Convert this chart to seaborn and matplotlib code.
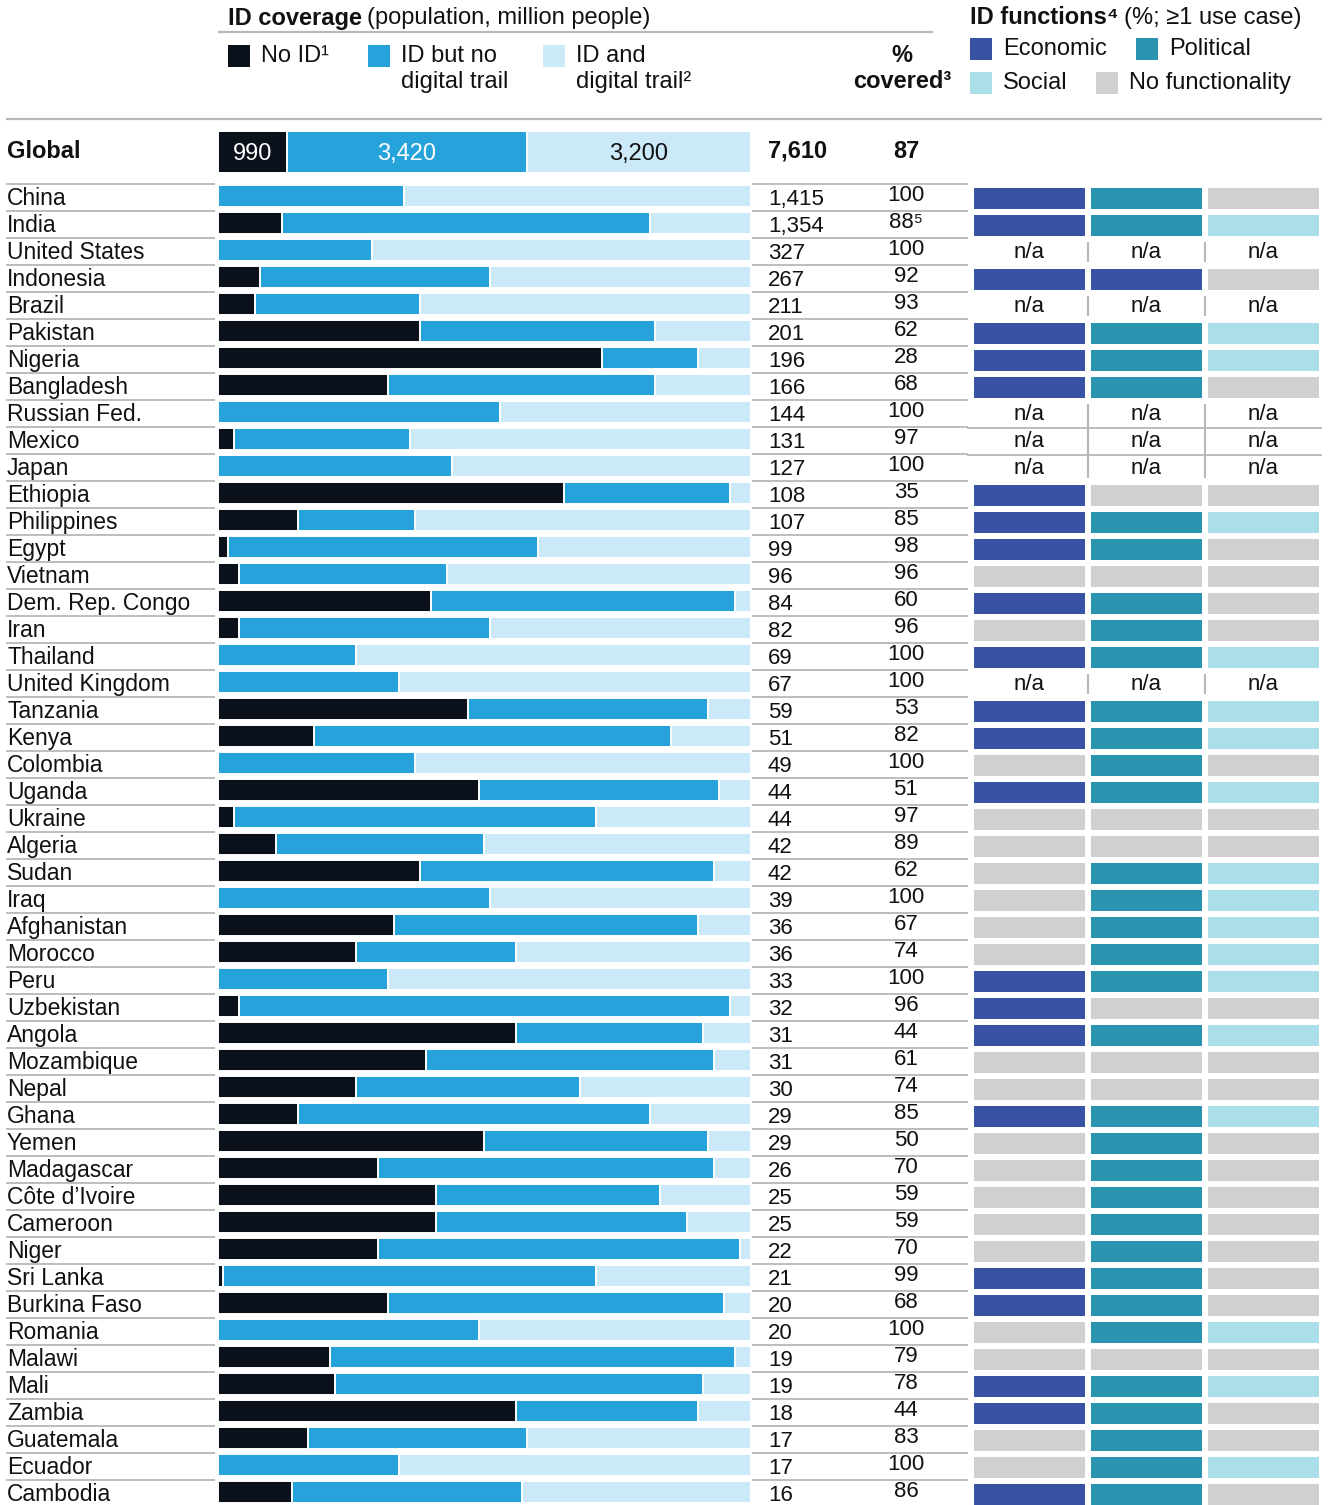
import matplotlib
matplotlib.use("Agg")
import matplotlib.pyplot as plt
from matplotlib.colors import ListedColormap
from matplotlib.patches import Rectangle
from matplotlib.transforms import blended_transform_factory
import numpy as np
import pandas as pd
import seaborn as sns

# --- data -------------------------------------------------------------------
countries = [
    "China", "India", "United States", "Indonesia", "Brazil", "Pakistan",
    "Nigeria", "Bangladesh", "Russian Fed.", "Mexico", "Japan", "Ethiopia",
    "Philippines", "Egypt", "Vietnam", "Dem. Rep. Congo", "Iran", "Thailand",
    "United Kingdom", "Tanzania", "Kenya", "Colombia", "Uganda", "Ukraine",
    "Algeria", "Sudan", "Iraq", "Afghanistan", "Morocco", "Peru", "Uzbekistan",
    "Angola", "Mozambique", "Nepal", "Ghana", "Yemen", "Madagascar",
    "Côte d’Ivoire", "Cameroon", "Niger", "Sri Lanka", "Burkina Faso",
    "Romania", "Malawi", "Mali", "Zambia", "Guatemala", "Ecuador", "Cambodia",
]
population = [
    1415, 1354, 327, 267, 211, 201, 196, 166, 144, 131, 127, 108, 107, 99, 96,
    84, 82, 69, 67, 59, 51, 49, 44, 44, 42, 42, 39, 36, 36, 33, 32, 31, 31, 30,
    29, 29, 26, 25, 25, 22, 21, 20, 20, 19, 19, 18, 17, 17, 16,
]
pct_covered = [
    "100", "88⁵", "100", "92", "93", "62", "28", "68", "100", "97", "100", "35",
    "85", "98", "96", "60", "96", "100", "100", "53", "82", "100", "51", "97",
    "89", "62", "100", "67", "74", "100", "96", "44", "61", "74", "85", "50",
    "70", "59", "59", "70", "99", "68", "100", "79", "78", "44", "83", "100", "86",
]
# shares of population (%)
no_id = [
    0, 12, 0, 8, 7, 38, 72, 32, 0, 3, 0, 65, 15, 2, 4, 40, 4, 0, 0, 47, 18, 0,
    49, 3, 11, 38, 0, 33, 26, 0, 4, 56, 39, 26, 15, 50, 30, 41, 41, 30, 1, 32,
    0, 21, 22, 56, 17, 0, 14,
]
id_no_trail = [
    35, 69, 29, 43, 31, 44, 18, 50, 53, 33, 44, 31, 22, 58, 39, 57, 47, 26, 34,
    45, 67, 37, 45, 68, 39, 55, 51, 57, 30, 32, 92, 35, 54, 42, 66, 42, 63, 42,
    47, 68, 70, 63, 49, 76, 69, 34, 41, 34, 43,
]
id_trail = [
    65, 19, 71, 49, 62, 18, 10, 18, 47, 64, 56, 4, 63, 40, 57, 3, 49, 74, 66, 8,
    15, 63, 6, 29, 50, 7, 49, 10, 44, 68, 4, 9, 7, 32, 19, 8, 7, 17, 12, 2, 29,
    5, 51, 3, 9, 10, 42, 66, 43,
]
global_segments = [990, 3420, 3200]
global_total = 7610
global_covered = 87

# ID functions: E economic, P political, S social, N none, None = n/a
economic_fn = [
    "E", "E", None, "E", None, "E", "E", "E", None, None, None, "E", "E", "E",
    "N", "E", "N", "E", None, "E", "E", "N", "E", "N", "N", "N", "N", "N", "N",
    "E", "E", "E", "N", "N", "E", "N", "N", "N", "N", "N", "E", "E", "N", "N",
    "E", "E", "N", "N", "E",
]
political_fn = [
    "P", "P", None, "E", None, "P", "P", "P", None, None, None, "N", "P", "P",
    "N", "P", "P", "P", None, "P", "P", "P", "P", "N", "N", "P", "P", "P", "P",
    "P", "N", "P", "N", "N", "P", "P", "P", "P", "P", "P", "P", "P", "P", "N",
    "P", "P", "P", "P", "P",
]
social_fn = [
    "N", "S", None, "N", None, "S", "S", "N", None, None, None, "N", "S", "N",
    "N", "N", "N", "S", None, "S", "S", "N", "S", "N", "N", "S", "S", "S", "S",
    "S", "N", "S", "N", "N", "S", "N", "N", "N", "N", "N", "N", "N", "S", "N",
    "S", "N", "N", "S", "N",
]

# --- style ------------------------------------------------------------------
C_NOID = "#0b111b"
C_NOTRAIL = "#27a3dc"
C_TRAIL = "#cce9f9"
C_ECON = "#3853a4"
C_POLIT = "#2a94b1"
C_SOCIAL = "#aadfe9"
C_NONE = "#d0d0d0"
C_LINE = "#b8b8b8"
C_TEXT = "#111111"

sns.set_theme(style="white")
plt.rcParams["font.family"] = ["Liberation Sans", "DejaVu Sans"]
plt.rcParams["text.color"] = C_TEXT

W, H = 1328, 1505
BAR_L, BAR_R = 217, 751
ROW_TOP = 184      # first separator line (px)
PITCH = 27         # row height (px)
BAR_C0 = 196       # centre of first bar (px)
FS = 16            # numbers
FS_LAB = 16.5      # country names
FS_HEAD = 17       # header and legend

fig = plt.figure(figsize=(W / 100, H / 100), dpi=100)


def fig_rect(x0, y0, x1, y1):
    return [x0 / W, 1 - y1 / H, (x1 - x0) / W, (y1 - y0) / H]


ax_bg = fig.add_axes([0, 0, 1, 1])
ax_bg.set_xlim(0, W)
ax_bg.set_ylim(H, 0)
ax_bg.axis("off")

# --- country bars -----------------------------------------------------------
df = pd.DataFrame({"country": countries, "no_id": no_id,
                   "no_trail": id_no_trail, "trail": id_trail})
df["upto_notrail"] = df["no_id"] + df["no_trail"]
df["upto_trail"] = df["upto_notrail"] + df["trail"]

ax_bar = fig.add_axes(fig_rect(BAR_L, ROW_TOP, BAR_R, H))
bar_kw = dict(y="country", orient="h", width=22 / PITCH, saturation=1,
              errorbar=None, edgecolor="white", linewidth=1.4, ax=ax_bar)
sns.barplot(data=df, x="upto_trail", color=C_TRAIL, **bar_kw)
sns.barplot(data=df, x="upto_notrail", color=C_NOTRAIL, **bar_kw)
sns.barplot(data=df, x="no_id", color=C_NOID, **bar_kw)
ax_bar.set_xlim(-0.15, 100)
ax_bar.set_ylim((H - BAR_C0) / PITCH, (ROW_TOP - BAR_C0) / PITCH)
ax_bar.set_xlabel("")
ax_bar.set_ylabel("")
ax_bar.set_xticks([])
sns.despine(ax=ax_bar, left=True, bottom=True)
ax_bar.tick_params(axis="y", length=0, pad=(BAR_L - 7) * 0.72,
                   labelsize=FS_LAB, labelcolor=C_TEXT)
for lab in ax_bar.get_yticklabels():
    lab.set_horizontalalignment("left")

# numbers next to the bars
trans = blended_transform_factory(ax_bg.transData, ax_bar.transData)
for i, (pop, pct) in enumerate(zip(population, pct_covered)):
    ax_bar.text(768, i + 0.13, f"{pop:,}", transform=trans, ha="left",
                va="center", fontsize=FS, clip_on=False)
    ax_bar.text(906, i - 0.02, pct, transform=trans, ha="center",
                va="center", fontsize=FS, clip_on=False)

# row separators
for k in range(len(countries)):
    y = ROW_TOP + PITCH * k
    ax_bg.hlines(y, 6, BAR_L - 2, color=C_LINE, lw=1.3)
    ax_bg.hlines(y, BAR_R + 1, 968, color=C_LINE, lw=1.3)

# --- ID function grid -------------------------------------------------------
code = {"N": 0, "E": 1, "P": 2, "S": 3}
fn_df = pd.DataFrame({"economic": economic_fn, "political": political_fn,
                      "social": social_fn}, index=countries)
fn_num = fn_df.apply(lambda col: col.map(code)).astype(float)
na_mask = fn_num.isna()

ax_fn = fig.add_axes(fig_rect(971, ROW_TOP + 0.5, 1322,
                              ROW_TOP + 0.5 + PITCH * len(countries)))
sns.heatmap(fn_num, mask=na_mask, ax=ax_fn, cbar=False,
            cmap=ListedColormap([C_NONE, C_ECON, C_POLIT, C_SOCIAL]),
            vmin=-0.5, vmax=3.5, linewidths=2.9, linecolor="white",
            xticklabels=False, yticklabels=False)

na_rows = na_mask.all(axis=1).to_numpy()
n = len(countries)
for i in np.where(na_rows)[0]:
    for j in range(3):
        ax_fn.text(j + 0.5, i + 0.5, "n/a", ha="center", va="center",
                   fontsize=FS)
    top = i if (i > 0 and na_rows[i - 1]) else i + 0.12
    bot = i + 1 if (i < n - 1 and na_rows[i + 1]) else i + 0.88
    ax_fn.vlines([1, 2], top, bot, color=C_LINE, lw=1.5)
    if i < n - 1 and na_rows[i + 1]:
        ax_fn.hlines(i + 1, -0.03, 3.0, color=C_LINE, lw=1.3, clip_on=False)

# --- global row ---------------------------------------------------------------
gdf = pd.DataFrame({"row": ["Global"], "no_id": [global_segments[0]],
                    "no_trail": [global_segments[1]],
                    "trail": [global_segments[2]]})
gdf["upto_notrail"] = gdf["no_id"] + gdf["no_trail"]
gdf["upto_trail"] = gdf["upto_notrail"] + gdf["trail"]

ax_glob = fig.add_axes(fig_rect(BAR_L, 131, BAR_R, 173))
gkw = dict(y="row", orient="h", width=1.0, saturation=1, errorbar=None,
           edgecolor="white", linewidth=1.4, ax=ax_glob)
sns.barplot(data=gdf, x="upto_trail", color=C_TRAIL, **gkw)
sns.barplot(data=gdf, x="upto_notrail", color=C_NOTRAIL, **gkw)
sns.barplot(data=gdf, x="no_id", color=C_NOID, **gkw)
ax_glob.set_xlim(-10, global_total)
ax_glob.set_ylim(0.5, -0.5)
ax_glob.axis("off")
starts = np.concatenate([[0], np.cumsum(global_segments)[:-1]])
for s, v, c in zip(starts, global_segments, ["white", "white", C_TEXT]):
    ax_glob.text(s + v / 2, 0.04, f"{v:,}", ha="center", va="center",
                 fontsize=FS + 1, color=c)

ax_bg.text(7, 151, "Global", fontsize=FS + 1, weight="bold", va="center")
ax_bg.text(768, 151, f"{global_total:,}", fontsize=FS + 1, weight="bold",
           va="center")
ax_bg.text(906, 151, str(global_covered), fontsize=FS + 1, weight="bold",
           va="center", ha="center")

# --- header -----------------------------------------------------------------
renderer = fig.canvas.get_renderer()


def bold_then_regular(x, y, bold, regular):
    t = ax_bg.text(x, y, bold, weight="bold", fontsize=FS_HEAD, va="center")
    bb = t.get_window_extent(renderer)
    x_end = ax_bg.transData.inverted().transform((bb.x1, bb.y0))[0]
    ax_bg.text(x_end + 5, y, regular, fontsize=FS_HEAD, va="center")


bold_then_regular(228, 18, "ID coverage", "(population, million people)")
bold_then_regular(970, 18, "ID functions⁴", "(%; ≥1 use case)")

ax_bg.hlines(32, 218, 933, color=C_LINE, lw=1.6)
ax_bg.hlines(119, 6, 1322, color=C_LINE, lw=1.6)

legend_left = [
    (228, C_NOID, ["No ID¹"]),
    (368, C_NOTRAIL, ["ID but no", "digital trail"]),
    (543, C_TRAIL, ["ID and", "digital trail²"]),
]
for x, c, lines in legend_left:
    ax_bg.add_patch(Rectangle((x, 45), 22, 22, color=c, lw=0))
    for k, line in enumerate(lines):
        ax_bg.text(x + 33, 56 + 26 * k, line, fontsize=FS_HEAD, va="center")

ax_bg.text(902, 55, "%", fontsize=FS_HEAD, weight="bold", ha="center",
           va="center")
ax_bg.text(902, 81, "covered³", fontsize=FS_HEAD, weight="bold", ha="center",
           va="center")

legend_right = [
    (970, 49, C_ECON, "Economic"),
    (1136, 49, C_POLIT, "Political"),
    (970, 83, C_SOCIAL, "Social"),
    (1096, 83, C_NONE, "No functionality"),
]
for x, y, c, label in legend_right:
    ax_bg.add_patch(Rectangle((x, y - 11), 22, 22, color=c, lw=0))
    ax_bg.text(x + 33, y, label, fontsize=FS_HEAD, va="center")

fig.savefig("out.png", dpi=100)
